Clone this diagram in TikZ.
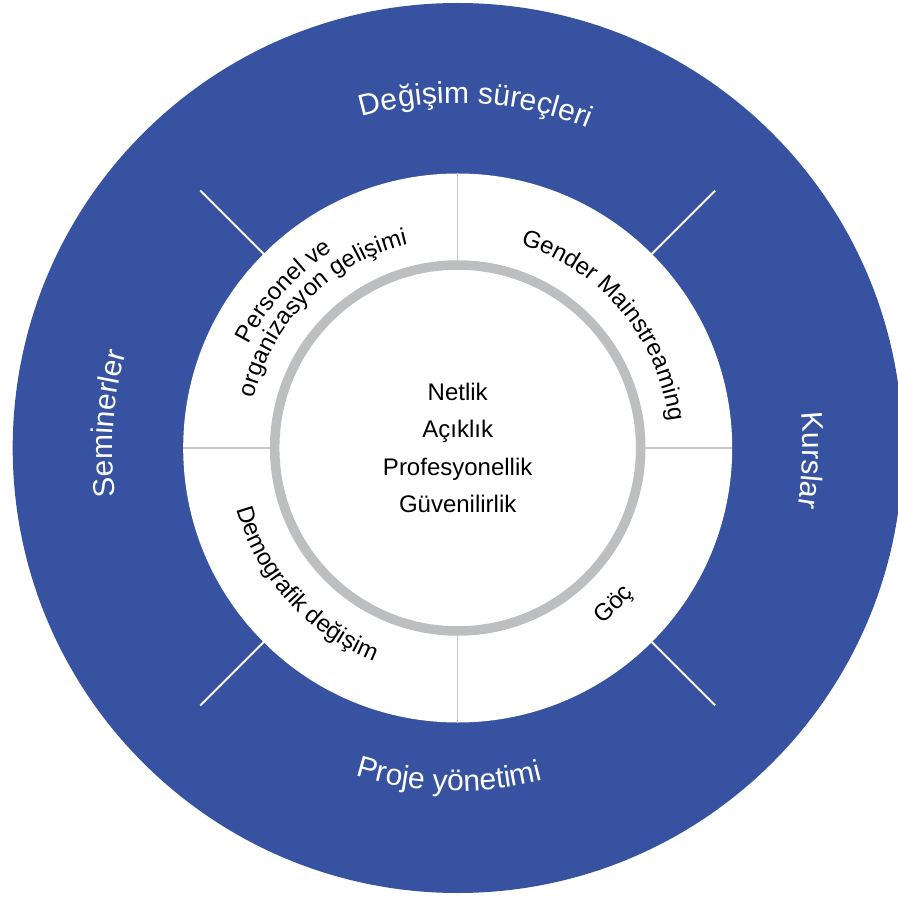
\documentclass[tikz,border=0pt]{standalone}
\usepackage{fontspec}
\setmainfont{Liberation Sans}
\usepackage{tikz}
\usetikzlibrary{decorations.text}
\definecolor{ringblue}{RGB}{54,82,160}
\definecolor{ringgray}{RGB}{188,190,192}
\definecolor{divgray}{RGB}{200,201,203}
\newcommand{\ringfs}{\fontsize{30}{36}\selectfont}
\newcommand{\segfs}{\fontsize{24}{28}\selectfont}

\begin{document}
\begin{tikzpicture}[x=1pt,y=1pt,
	divider/.style={divgray,line width=1.2pt},
	spoke/.style={white,line width=2pt},
	ringtext/.style={decorate,decoration={text along path,text align=center,text color=white,text={|\ringfs|#1}}},
	segtext/.style={decorate,decoration={text along path,text align=center,text={|\segfs|#1}}}]
	\useasboundingbox (-457.7,-449) rectangle (439.3,448);
	\fill[ringblue] (0,0) circle[radius=445];
	\fill[white] (0,0) circle[radius=274.5];
	\foreach \a in {0,90,180,270}
		\draw[divider] (\a:183) -- (\a:274.5);
	\draw[ringgray,line width=9.5pt] (0,0) circle[radius=183];
	\foreach \a in {45,135,225,315}
		\draw[spoke] (\a:274.5) -- (\a:364);
	\node[align=center,font=\fontsize{24}{37.5}\selectfont] (values) at (0,0) {Netlik\\Açıklık\\Profesyonellik\\Güvenilirlik};
	\path[ringtext={Değişim süreçleri}] (122:345) arc[start angle=122,end angle=52,radius=345];
	\path[ringtext={Kurslar}] (28:345) arc[start angle=28,end angle=-32,radius=345];
	\path[ringtext={Seminerler}] (216:345) arc[start angle=216,end angle=136,radius=345];
	\path[ringtext={Proje yönetimi}] (233.5:343) arc[start angle=233.5,end angle=303.5,radius=343];
	\path[segtext={Personel ve}] (178:233) arc[start angle=178,end angle=98,radius=233];
	\path[segtext={organizasyon gelişimi}] (175:210) arc[start angle=175,end angle=95,radius=210];
	\path[segtext={Gender Mainstreaming}] (80:213) arc[start angle=80,end angle=0,radius=213];
	\path[segtext={Demografik değişim}] (182:229) arc[start angle=182,end angle=262,radius=229];
	\path[segtext={Göç}] (295:228) arc[start angle=295,end angle=335,radius=228];
\end{tikzpicture}
\end{document}
